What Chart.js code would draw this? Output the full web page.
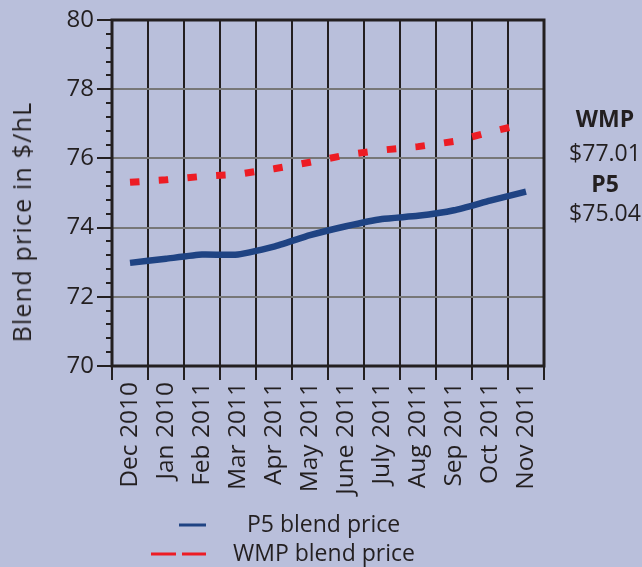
<!DOCTYPE html>
<html>
<head>
<meta charset="utf-8">
<script src="https://cdn.jsdelivr.net/npm/chart.js@4/dist/chart.umd.min.js"></script>
<style>
    body { margin: 0; background: #b9bfdb; }
    #wrap { position: relative; width: 642px; height: 567px; overflow: hidden; font-family: 'Open Sans', sans-serif; color: #231f20; }
    #chart { position: absolute; left: 0; top: 0; }
    #yTitle { position: absolute; left: 21px; top: 222px; transform: translate(-50%, -50%) rotate(-90deg); white-space: nowrap; font-size: 25px; letter-spacing: 1.2px; }
    .callout { position: absolute; left: 605px; transform: translate(-50%, -50%); white-space: nowrap; font-size: 23px; }
    .callout.bold { font-weight: 700; font-size: 23px; }
    .legend-item { position: absolute; white-space: nowrap; font-size: 23px; transform: translateY(-50%); }
    .legend-sample { position: absolute; }
</style>
</head>
<body>
<div id="wrap">
    <canvas id="chart" width="642" height="567"></canvas>
    <div id="yTitle">Blend price in $/hL</div>
    <div id="callouts"></div>
    <div id="legend"></div>
</div>
<script>
// Data
const months = ['Dec 2010', 'Jan 2010', 'Feb 2011', 'Mar 2011', 'Apr 2011', 'May 2011',
    'June 2011', 'July 2011', 'Aug 2011', 'Sep 2011', 'Oct 2011', 'Nov 2011'];
const p5Prices = [72.98, 73.10, 73.22, 73.22, 73.45, 73.78, 74.04, 74.25, 74.34, 74.50, 74.78, 75.04];
const wmpPrices = [75.31, 75.38, 75.48, 75.54, 75.70, 75.89, 76.10, 76.24, 76.34, 76.49, 76.76, 77.01];
const seriesNames = ['P5 blend price', 'WMP blend price'];
const calloutNames = ['WMP', 'P5'];

const blue = '#1f4383';
const red = '#ed1c24';
const ink = '#231f20';

// Frame round the plot and minor ticks on the y axis
const framePlugin = {
    id: 'frame',
    beforeDatasetsDraw(chart) {
        const { ctx, chartArea: a } = chart;
        ctx.save();
        ctx.strokeStyle = ink;
        ctx.lineWidth = 3;
        ctx.strokeRect(a.left, a.top, a.right - a.left, a.bottom - a.top);
        ctx.restore();
    },
    afterDraw(chart) {
        const { ctx, chartArea: a } = chart;
        const y = chart.scales.y;
        ctx.save();
        ctx.strokeStyle = ink;
        ctx.lineWidth = 2;
        for (let v = y.min; v <= y.max + 1e-6; v += 0.4) {
            const py = Math.round(y.getPixelForValue(v));
            ctx.beginPath();
            ctx.moveTo(a.left - 6, py);
            ctx.lineTo(a.left, py);
            ctx.stroke();
        }
        ctx.restore();
    }
};

const chart = new Chart(document.getElementById('chart'), {
    type: 'line',
    data: {
        labels: months,
        datasets: [{
            label: seriesNames[0],
            data: p5Prices,
            borderColor: blue,
            borderWidth: 6.5,
            pointRadius: 0,
            tension: 0.15
        }, {
            label: seriesNames[1],
            data: wmpPrices,
            borderColor: red,
            borderWidth: 7,
            borderDash: [9.5, 19.3],
            borderCapStyle: 'butt',
            pointRadius: 0,
            tension: 0
        }]
    },
    options: {
        responsive: false,
        animation: false,
        layout: { padding: { top: 20, right: 98, left: 0, bottom: 0 } },
        plugins: { legend: { display: false }, tooltip: { enabled: false } },
        scales: {
            x: {
                offset: true,
                border: { display: false },
                grid: { offset: true, color: ink, lineWidth: 2, tickLength: 14 },
                ticks: {
                    maxRotation: 90, minRotation: 90, padding: 2, color: ink,
                    font: { family: 'Open Sans', size: 24.5 }
                },
                afterFit: s => { s.height = 201; }
            },
            y: {
                min: 70, max: 80,
                border: { display: false },
                grid: { color: '#777', lineWidth: 2, tickLength: 15, tickColor: ink, tickWidth: 2 },
                ticks: {
                    stepSize: 2, padding: 3, color: ink,
                    font: { family: 'Open Sans', size: 24 }
                },
                afterFit: s => { s.width = 112; }
            }
        }
    },
    plugins: [framePlugin]
});

// Callouts with the latest values
const callouts = document.getElementById('callouts');
const latest = [wmpPrices[wmpPrices.length - 1], p5Prices[p5Prices.length - 1]];
const calloutY = [[118, 152], [183, 212]];
calloutNames.forEach((name, i) => {
    const n = document.createElement('div');
    n.className = 'callout bold';
    n.style.top = calloutY[i][0] + 'px';
    n.textContent = name;
    const v = document.createElement('div');
    v.className = 'callout';
    v.style.top = calloutY[i][1] + 'px';
    v.textContent = '$' + latest[i].toFixed(2);
    callouts.append(n, v);
});

// Legend
const legend = document.getElementById('legend');
const legendRows = [
    { y: 524, textX: 247, sampleX: 179, width: 27, color: blue, dash: '' },
    { y: 553, textX: 233, sampleX: 151, width: 55, color: red, dash: '25 6' }
];
seriesNames.forEach((name, i) => {
    const r = legendRows[i];
    const svg = document.createElementNS('http://www.w3.org/2000/svg', 'svg');
    svg.setAttribute('class', 'legend-sample');
    svg.setAttribute('width', r.width);
    svg.setAttribute('height', 4);
    svg.style.left = r.sampleX + 'px';
    svg.style.top = (r.y - 1) + 'px';
    svg.innerHTML = `<line x1="0" y1="2" x2="${r.width}" y2="2" stroke="${r.color}" stroke-width="3" stroke-dasharray="${r.dash}"/>`;
    const t = document.createElement('div');
    t.className = 'legend-item';
    t.style.left = r.textX + 'px';
    t.style.top = (r.y - 1) + 'px';
    t.textContent = name;
    legend.append(svg, t);
});
</script>
</body>
</html>
